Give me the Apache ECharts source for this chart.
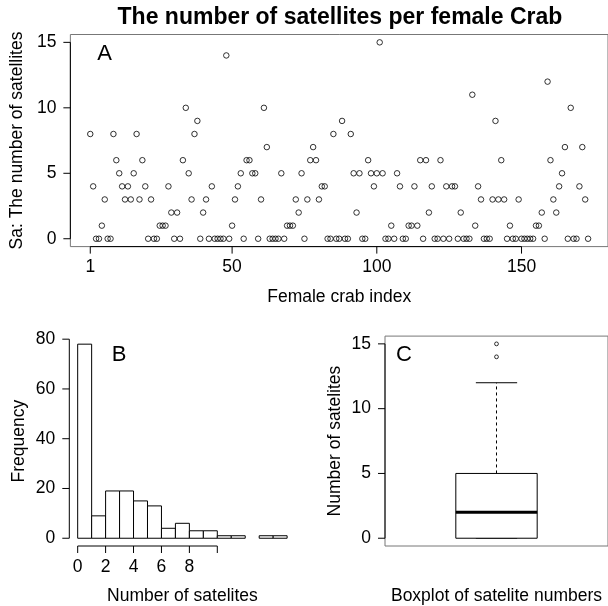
<!DOCTYPE html>
<html><head><meta charset="utf-8">
<script src="https://cdn.jsdelivr.net/npm/echarts@6/dist/echarts.min.js"></script>
<style>html,body{margin:0;padding:0;background:#fff}#c{width:608px;height:606px}</style>
</head><body><div id="c"></div>
<script>
// ---- data ----
const satellites = [
  8,4,0,0,1,3,0,0,8,6, 5,4,3,4,3,5,8,3,6,4, 0,3,0,0,1,1,1,4,2,0,
  2,0,6,10,5,3,8,9,0,2, 3,0,4,0,0,0,0,14,0,1, 3,4,5,0,6,6,5,5,0,3,
  10,7,0,0,0,0,5,0,1,1, 1,3,2,5,0,3,6,7,6,3, 4,4,0,0,8,0,0,9,0,0,
  8,5,2,5,0,0,6,5,4,5, 15,5,0,0,1,0,5,4,0,0, 1,1,4,1,6,0,6,2,4,0,
  0,6,0,4,0,4,4,0,2,0, 0,0,11,1,4,3,0,0,0,3, 9,3,6,3,0,1,0,0,3,0,
  0,0,0,0,1,1,2,0,12,6, 3,2,4,5,7,0,10,0,0,4, 7,3,0
];
const indexTicks = [1, 50, 100, 150];
const countTicks = [0, 5, 10, 15];
const histBreaks = [0,1,2,3,4,5,6,7,8,9,10,11,12,13,14,15];
const freqTicks = [0, 20, 40, 60, 80];
const histXTicks = [0, 2, 4, 6, 8, 10];
const histXLabels = [0, 2, 4, 6, 8];

// ---- derived ----
const FONT = '"Liberation Sans", Arial, Helvetica, sans-serif';
const FS = 17.5;
const TICK = 7;
function rExt(lo, hi) { const d = (hi - lo) * 0.04; return [lo - d, hi + d]; }

const histCounts = histBreaks.slice(0, -1).map(() => 0);
satellites.forEach(v => {
  let k = histBreaks.findIndex((b, i) => i > 0 && v <= b) - 1;
  if (k < 0) k = 0;
  histCounts[k]++;
});
const histData = histCounts.map((c, k) => [histBreaks[k], histBreaks[k + 1], c]).filter(d => d[2] > 0);

const sorted = satellites.slice().sort((a, b) => a - b);
const n = sorted.length;
function q1based(p) { return 0.5 * (sorted[Math.floor(p) - 1] + sorted[Math.ceil(p) - 1]); }
const n4 = Math.floor((n + 3) / 2) / 2;
const hLo = q1based(n4), med = q1based((n + 1) / 2), hHi = q1based(n + 1 - n4);
const iqr = hHi - hLo;
const inside = sorted.filter(v => v >= hLo - 1.5 * iqr && v <= hHi + 1.5 * iqr);
const wLo = Math.min(...inside), wHi = Math.max(...inside);
const outliers = sorted.filter(v => v < wLo || v > wHi).filter((v, i, a) => a.indexOf(v) === i);

const xA = rExt(1, satellites.length), yA = rExt(0, 15);
const xB = rExt(histBreaks[0], histBreaks[histBreaks.length - 1]), yB = rExt(0, Math.max(...histCounts));
const xC = rExt(0.5, 1.5), yC = rExt(0, 15);

const gA = { left: 69.2, top: 34.5, width: 541.5, height: 212.1 };
const gB = { left: 69.3, top: 336.4, width: 226.2, height: 211.4 };
const gC = { left: 385, top: 336.1, width: 228.6, height: 211.7 };

function axisCommon(labels, margin) {
  return {
    axisLine: { show: false, onZero: false },
    splitLine: { show: false },
    axisTick: { show: false },
    axisLabel: { show: labels !== null, customValues: labels || [], margin: margin, color: '#000', fontSize: FS, fontFamily: FONT },
    nameTextStyle: { color: '#000', fontSize: FS, fontFamily: FONT }
  };
}
// axis line from first to last tick plus outward tick marks, placed through the axis scale
function axisDraw(xi, yi, dir, ticks, edge) {
  return { type: 'custom', xAxisIndex: xi, yAxisIndex: yi, silent: true, clip: false, z: 5,
    data: ticks.map(t => [t]),
    renderItem: function (params, api) {
      const v = api.value(0);
      const p = dir === 'x' ? api.coord([v, edge]) : api.coord([edge, v]);
      const kids = [];
      const tick = dir === 'x'
        ? { x1: p[0], y1: p[1], x2: p[0], y2: p[1] + TICK }
        : { x1: p[0] - TICK, y1: p[1], x2: p[0], y2: p[1] };
      kids.push({ type: 'line', shape: tick, style: { stroke: '#000', lineWidth: 1 } });
      if (params.dataIndex === 0) {
        const last = ticks[ticks.length - 1];
        const q = dir === 'x' ? api.coord([last, edge]) : api.coord([edge, last]);
        kids.push({ type: 'line', shape: { x1: p[0], y1: p[1], x2: q[0], y2: q[1] }, style: { stroke: '#000', lineWidth: 1 } });
      }
      return { type: 'group', children: kids };
    } };
}
const hollow = { color: 'rgba(0,0,0,0)', borderColor: '#000', borderWidth: 1 };

const option = {
  animation: false,
  backgroundColor: '#fff',
  grid: [
    Object.assign({ show: true, borderColor: '#777', borderWidth: 1, backgroundColor: 'transparent' }, gA),
    Object.assign({ show: false }, gB),
    Object.assign({ show: true, borderColor: '#777', borderWidth: 1, backgroundColor: 'transparent' }, gC)
  ],
  xAxis: [
    Object.assign(axisCommon(indexTicks, 12), { type: 'value', gridIndex: 0, min: xA[0], max: xA[1],
      name: 'Female crab index', nameLocation: 'middle', nameGap: 42 }),
    Object.assign(axisCommon(histXLabels, 12), { type: 'value', gridIndex: 1, min: xB[0], max: xB[1],
      name: 'Number of satelites', nameLocation: 'middle', nameGap: 41 }),
    Object.assign(axisCommon(null, 12), { type: 'value', gridIndex: 2, min: xC[0], max: xC[1],
      name: 'Boxplot of satelite numbers', nameLocation: 'middle', nameGap: 41 })
  ],
  yAxis: [
    Object.assign(axisCommon(countTicks, 14), { type: 'value', gridIndex: 0, min: yA[0], max: yA[1],
      name: 'Sa: The number of satellites', nameLocation: 'middle', nameGap: 44, nameRotate: 90 }),
    Object.assign(axisCommon(freqTicks, 14), { type: 'value', gridIndex: 1, min: yB[0], max: yB[1],
      name: 'Frequency', nameLocation: 'middle', nameGap: 41, nameRotate: 90 }),
    Object.assign(axisCommon(countTicks, 14), { type: 'value', gridIndex: 2, min: yC[0], max: yC[1],
      name: 'Number of satelites', nameLocation: 'middle', nameGap: 41, nameRotate: 90 })
  ],
  graphic: [
    { type: 'text', x: gA.left + gA.width / 2, y: 18, style: { text: 'The number of satellites per female Crab',
      fill: '#000', fontSize: 23, fontWeight: 'bold', fontFamily: FONT, align: 'center', verticalAlign: 'middle' } },
    { type: 'text', x: 104.5, y: 54, style: { text: 'A', fill: '#000', fontSize: 22, fontFamily: FONT, align: 'center', verticalAlign: 'middle' } },
    { type: 'text', x: 119, y: 354.5, style: { text: 'B', fill: '#000', fontSize: 22, fontFamily: FONT, align: 'center', verticalAlign: 'middle' } },
    { type: 'text', x: 404, y: 354.5, style: { text: 'C', fill: '#000', fontSize: 22, fontFamily: FONT, align: 'center', verticalAlign: 'middle' } }
  ],
  series: [
    // panel A
    { type: 'scatter', xAxisIndex: 0, yAxisIndex: 0, symbol: 'circle', symbolSize: 5.5, itemStyle: hollow,
      data: satellites.map((v, i) => [i + 1, v]), z: 3 },
    axisDraw(0, 0, 'x', indexTicks, yA[0]),
    axisDraw(0, 0, 'y', countTicks, xA[0]),
    // panel B
    { type: 'custom', xAxisIndex: 1, yAxisIndex: 1, data: histData, encode: { x: [0, 1], y: 2 },
      renderItem: function (params, api) {
        const p0 = api.coord([api.value(0), 0]);
        const p1 = api.coord([api.value(1), api.value(2)]);
        return { type: 'rect', shape: { x: p0[0], y: p1[1], width: p1[0] - p0[0], height: p0[1] - p1[1] },
          style: { fill: '#fff', stroke: '#000', lineWidth: 1 } };
      } },
    axisDraw(1, 1, 'x', histXTicks, yB[0]),
    axisDraw(1, 1, 'y', freqTicks, xB[0]),
    // panel C
    { type: 'custom', xAxisIndex: 2, yAxisIndex: 2, data: [[1, wLo, hLo, med, hHi, wHi]], encode: { x: 0, y: [1, 2, 3, 4, 5] },
      renderItem: function (params, api) {
        const x = api.value(0), lo = api.value(1), q1 = api.value(2), md = api.value(3), q3 = api.value(4), hi = api.value(5);
        const hw = 0.197, sw = 0.1;
        const c = (a, b) => api.coord([a, b]);
        const ln = (a, b, w, dash) => ({ type: 'line', shape: { x1: a[0], y1: a[1], x2: b[0], y2: b[1] },
          style: { stroke: '#000', lineWidth: w, lineDash: dash || null } });
        const t = c(x - hw, q3), bt = c(x + hw, q1);
        return { type: 'group', children: [
          ln(c(x, q3), c(x, hi), 1, [3, 3]),
          ln(c(x, q1), c(x, lo), 1, [3, 3]),
          ln(c(x - sw, hi), c(x + sw, hi), 1),
          ln(c(x - sw, lo), c(x + sw, lo), 1),
          { type: 'rect', shape: { x: t[0], y: t[1], width: bt[0] - t[0], height: bt[1] - t[1] },
            style: { fill: '#fff', stroke: '#000', lineWidth: 1 } },
          ln(c(x - hw, md), c(x + hw, md), 3)
        ] };
      } },
    { type: 'scatter', xAxisIndex: 2, yAxisIndex: 2, symbol: 'circle', symbolSize: 3.8, itemStyle: hollow,
      data: outliers.map(v => [1, v]), z: 3 },
    axisDraw(2, 2, 'y', countTicks, xC[0])
  ]
};
const chart = echarts.init(document.getElementById('c'), null, { renderer: 'canvas' });
chart.setOption(option);
</script>
</body></html>
